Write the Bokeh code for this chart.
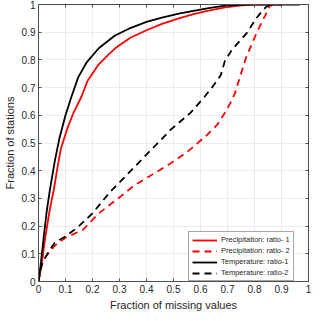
from bokeh.plotting import figure
from bokeh.models import LinearAxis, FixedTicker, Legend, LegendItem, Range1d
from bokeh.embed import file_html
from bokeh.resources import INLINE

# ---- data ----
p1_x = [0, 0.01, 0.025, 0.04, 0.057, 0.07, 0.083, 0.106, 0.13, 0.159, 0.182, 0.223, 0.26, 0.288,
        0.34, 0.4, 0.457, 0.52, 0.574, 0.63, 0.691, 0.75, 0.8, 0.9]
p1_y = [0, 0.05, 0.158, 0.25, 0.333, 0.41, 0.48, 0.55, 0.61, 0.667, 0.725, 0.784, 0.82, 0.845,
        0.88, 0.907, 0.93, 0.95, 0.965, 0.978, 0.99, 0.997, 1.0, 1.0]

t1_x = [0, 0.008, 0.019, 0.03, 0.042, 0.06, 0.077, 0.1, 0.122, 0.147, 0.177, 0.223, 0.282, 0.34,
        0.4, 0.457, 0.52, 0.574, 0.63, 0.691, 0.75, 0.8, 0.967]
t1_y = [0, 0.06, 0.158, 0.25, 0.33, 0.433, 0.515, 0.6, 0.667, 0.737, 0.789, 0.842, 0.887, 0.915,
        0.937, 0.953, 0.967, 0.977, 0.987, 0.996, 0.999, 1.0, 1.0]

p2_x = [0, 0.005, 0.012, 0.025, 0.06, 0.1, 0.165, 0.223, 0.29, 0.352, 0.411, 0.481, 0.551, 0.621,
        0.663, 0.691, 0.71, 0.727, 0.768, 0.809, 0.839, 0.856, 0.87, 0.9]
p2_y = [0, 0.03, 0.06, 0.088, 0.129, 0.158, 0.187, 0.246, 0.296, 0.345, 0.38, 0.421, 0.468, 0.526,
        0.567, 0.61, 0.643, 0.678, 0.807, 0.90, 0.959, 0.994, 1.0, 1.0]

t2_x = [0, 0.005, 0.013, 0.036, 0.06, 0.095, 0.142, 0.2, 0.264, 0.346, 0.422, 0.492, 0.562, 0.615,
        0.65, 0.675, 0.69, 0.716, 0.774, 0.804, 0.833, 0.85, 0.86]
t2_y = [0, 0.03, 0.064, 0.105, 0.14, 0.16, 0.193, 0.246, 0.322, 0.404, 0.48, 0.55, 0.608, 0.667,
        0.71, 0.745, 0.795, 0.836, 0.90, 0.947, 0.982, 0.996, 1.0]

ticks = [0, 0.1, 0.2, 0.3, 0.4, 0.5, 0.6, 0.7, 0.8, 0.9, 1]
tick_labels = ["0", "0.1", "0.2", "0.3", "0.4", "0.5", "0.6", "0.7", "0.8", "0.9", "1"]

legend_labels = ["Precipitation: ratio- 1", "Precipitation: ratio- 2",
                 "Temperature: ratio-1", "Temperature: ratio-2"]

FONT = "Liberation Sans"
TXT = "#262626"
AX = "#4d4d4d"

p = figure(width=312, height=313, output_backend="svg", toolbar_location=None,
           x_range=Range1d(0, 1), y_range=Range1d(0, 1),
           min_border_left=22, min_border_right=4, min_border_top=4, min_border_bottom=30,
           x_axis_label="Fraction of missing values", y_axis_label="Fraction of stations")
p.outline_line_color = AX
p.background_fill_color = "white"

overrides = {t: l for t, l in zip(ticks, tick_labels)}

for ax in [p.xaxis[0], p.yaxis[0]]:
    ax.ticker = FixedTicker(ticks=ticks)
    ax.major_label_overrides = overrides
    ax.major_label_text_font = FONT
    ax.major_label_text_font_size = "10px"
    ax.major_label_text_color = TXT
    ax.axis_label_text_font = FONT
    ax.axis_label_text_font_size = "11px"
    ax.axis_label_text_font_style = "normal"
    ax.axis_label_text_color = TXT
    ax.axis_line_color = AX
    ax.major_tick_line_color = AX
    ax.major_tick_in = 3
    ax.major_tick_out = 0
    ax.minor_tick_line_color = None
    ax.major_label_standoff = 3
    ax.axis_label_standoff = 3

for loc in ["right", "above"]:
    ax = LinearAxis(ticker=FixedTicker(ticks=ticks))
    ax.major_label_text_font_size = "1px"
    ax.major_label_text_color = None
    ax.major_label_standoff = 0
    ax.axis_line_color = AX
    ax.major_tick_line_color = AX
    ax.major_tick_in = 3
    ax.major_tick_out = 0
    ax.minor_tick_line_color = None
    p.add_layout(ax, loc)

p.xgrid.ticker = FixedTicker(ticks=ticks)
p.ygrid.ticker = FixedTicker(ticks=ticks)
p.grid.grid_line_color = "#ebebeb"
p.grid.grid_line_width = 1

LW = 1.8
r1 = p.line(p1_x, p1_y, line_color="#ff0000", line_width=LW)
r2 = p.line(p2_x, p2_y, line_color="#ff0000", line_width=LW, line_dash="7 5")
r3 = p.line(t1_x, t1_y, line_color="#000000", line_width=LW)
r4 = p.line(t2_x, t2_y, line_color="#000000", line_width=LW, line_dash="7 5")

legend = Legend(items=[LegendItem(label=legend_labels[0], renderers=[r1]),
                       LegendItem(label=legend_labels[1], renderers=[r2]),
                       LegendItem(label=legend_labels[2], renderers=[r3]),
                       LegendItem(label=legend_labels[3], renderers=[r4])],
                location=(150, 0))
legend.margin = 0
legend.padding = 3
legend.spacing = 2
legend.glyph_width = 25
legend.glyph_height = 8
legend.label_height = 8
legend.label_standoff = 4
legend.label_text_font = FONT
legend.label_text_font_size = "7.5px"
legend.label_text_color = TXT
legend.label_text_baseline = "middle"
legend.border_line_color = AX
legend.border_line_width = 1
legend.background_fill_alpha = 1
p.add_layout(legend, "center")

open("out.html", "w").write(file_html(p, INLINE))
